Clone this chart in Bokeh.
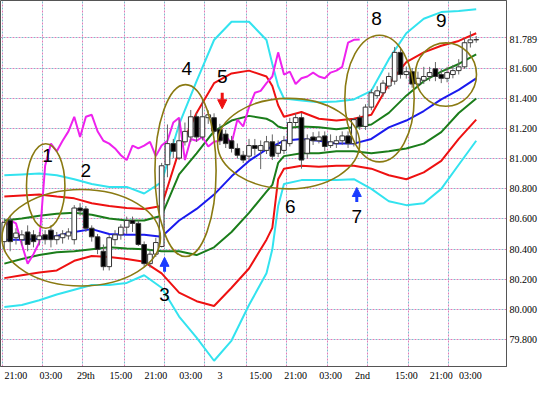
from bokeh.plotting import figure
from bokeh.models import (Range1d, FixedTicker, NumeralTickFormatter, Grid,
                          ColumnDataSource, Arrow, NormalHead)
from bokeh.core.properties import value
from bokeh.embed import file_html
from bokeh.resources import INLINE

# ---------------- data ----------------
# hourly candles (index 0 .. 81)
opens = [80.449, 80.589, 80.475, 80.462, 80.513, 80.494, 80.462, 80.494, 80.525, 80.462,
         80.475, 80.487, 80.462, 80.672, 80.666, 80.538, 80.481, 80.385, 80.283, 80.462,
         80.494, 80.545, 80.589, 80.570, 80.430, 80.303, 80.366, 80.417, 80.959, 81.099,
         81.003, 81.111, 81.143, 81.277, 81.143, 81.271, 81.271, 81.194, 81.162, 81.118,
         81.067, 81.022, 81.016, 81.086, 81.054, 81.054, 81.111, 81.035, 81.054, 81.099,
         81.239, 81.271, 81.035, 81.143, 81.118, 81.150, 81.086, 81.099, 81.118, 81.150,
         81.099, 81.271, 81.213, 81.341, 81.417, 81.436, 81.481, 81.513, 81.704, 81.557,
         81.576, 81.494, 81.519, 81.544, 81.595, 81.557, 81.532, 81.557, 81.583, 81.608,
         81.768, 81.787]
highs = [80.602, 80.621, 80.538, 80.525, 80.557, 80.525, 80.513, 80.525, 80.557, 80.513,
         80.525, 80.538, 80.691, 80.704, 80.685, 80.557, 80.500, 80.430, 80.494, 80.525,
         80.564, 80.615, 80.615, 80.590, 80.450, 80.400, 80.475, 80.971, 81.226, 81.130,
         81.258, 81.239, 81.322, 81.300, 81.400, 81.320, 81.300, 81.230, 81.190, 81.150,
         81.100, 81.050, 81.130, 81.130, 81.120, 81.150, 81.160, 81.120, 81.150, 81.270,
         81.300, 81.302, 81.160, 81.175, 81.180, 81.180, 81.160, 81.150, 81.180, 81.180,
         81.270, 81.290, 81.360, 81.460, 81.480, 81.520, 81.570, 81.740, 81.740, 81.610,
         81.600, 81.576, 81.608, 81.608, 81.640, 81.595, 81.608, 81.621, 81.659, 81.799,
         81.844, 81.812]
lows = [80.385, 80.385, 80.430, 80.424, 80.385, 80.411, 80.424, 80.430, 80.411, 80.430,
        80.436, 80.462, 80.430, 80.621, 80.513, 80.449, 80.366, 80.258, 80.258, 80.424,
        80.462, 80.500, 80.513, 80.420, 80.283, 80.277, 80.347, 80.411, 80.876, 81.003,
        80.990, 81.086, 81.110, 81.110, 81.120, 81.230, 81.160, 81.090, 81.070, 81.040,
        81.000, 80.970, 80.990, 81.020, 80.930, 81.030, 80.990, 81.010, 81.030, 81.080,
        81.210, 80.933, 81.000, 81.090, 81.100, 81.050, 81.070, 81.070, 81.090, 81.070,
        81.080, 81.190, 81.190, 81.320, 81.400, 81.410, 81.460, 81.490, 81.530, 81.530,
        81.470, 81.468, 81.494, 81.513, 81.513, 81.500, 81.506, 81.532, 81.557, 81.595,
        81.736, 81.768]
closes = [80.577, 80.449, 80.506, 80.494, 80.430, 80.449, 80.487, 80.462, 80.462, 80.487,
          80.500, 80.513, 80.672, 80.653, 80.538, 80.481, 80.398, 80.283, 80.475, 80.494,
          80.545, 80.589, 80.570, 80.430, 80.303, 80.366, 80.443, 80.952, 81.099, 81.048,
          81.118, 81.180, 81.277, 81.143, 81.277, 81.290, 81.181, 81.118, 81.099, 81.067,
          81.022, 80.990, 81.086, 81.067, 81.086, 81.111, 81.016, 81.086, 81.118, 81.239,
          81.271, 80.990, 81.130, 81.118, 81.143, 81.080, 81.111, 81.118, 81.150, 81.099,
          81.258, 81.213, 81.341, 81.436, 81.449, 81.500, 81.544, 81.704, 81.557, 81.576,
          81.494, 81.532, 81.544, 81.570, 81.544, 81.532, 81.570, 81.583, 81.608, 81.768,
          81.787, 81.789]
chikou_shift = 20

# band lines
band_x = [0, 3, 6, 9, 12, 15, 18, 21, 24, 27, 30, 33, 36, 39, 42, 45, 46, 47,
          48, 51, 54, 57, 60, 63, 66, 69, 72, 75, 78, 81]
mid = [80.462, 80.462, 80.468, 80.487, 80.513, 80.532, 80.500, 80.494, 80.494, 80.481,
       80.589, 80.666, 80.761, 80.882, 80.984, 81.061, 81.080, 81.099, 81.118, 81.130,
       81.118, 81.099, 81.099, 81.130, 81.207, 81.252, 81.315, 81.392, 81.455, 81.532]
up1 = [80.589, 80.602, 80.621, 80.634, 80.640, 80.627, 80.602, 80.589, 80.589, 80.621,
       80.895, 81.035, 81.181, 81.252, 81.283, 81.264, 81.245, 81.213, 81.201, 81.213,
       81.207, 81.194, 81.207, 81.226, 81.303, 81.417, 81.513, 81.576, 81.627, 81.691]
dn1 = [80.303, 80.334, 80.360, 80.379, 80.385, 80.398, 80.411, 80.404, 80.398, 80.385,
       80.385, 80.360, 80.411, 80.513, 80.640, 80.780, 80.825, 80.971, 81.016, 81.035,
       81.035, 81.048, 81.048, 81.035, 81.048, 81.067, 81.099, 81.175, 81.302, 81.398]
up2 = [80.748, 80.755, 80.761, 80.748, 80.736, 80.704, 80.685, 80.672, 80.666, 80.685,
       81.054, 81.302, 81.500, 81.564, 81.583, 81.544, 81.481, 81.353, 81.277, 81.309,
       81.264, 81.252, 81.264, 81.290, 81.494, 81.640, 81.704, 81.748, 81.780, 81.831]
dn2 = [80.207, 80.226, 80.245, 80.258, 80.322, 80.354, 80.347, 80.334, 80.315, 80.239,
       80.111, 80.054, 80.022, 80.143, 80.271, 80.462, 80.540, 80.863, 80.933, 80.952,
       80.946, 80.952, 80.952, 80.933, 80.889, 80.863, 80.908, 80.984, 81.130, 81.258]
up3 = [80.889, 80.895, 80.901, 80.889, 80.863, 80.831, 80.812, 80.812, 80.768, 80.844,
       81.226, 81.513, 81.786, 81.907, 81.907, 81.786, 81.627, 81.481, 81.398, 81.385,
       81.373, 81.379, 81.392, 81.449, 81.659, 81.831, 81.927, 81.971, 81.978, 81.990]
dn3 = [80.016, 80.029, 80.060, 80.098, 80.130, 80.162, 80.162, 80.175, 80.226, 80.143,
       79.952, 79.812, 79.659, 79.793, 80.029, 80.239, 80.398, 80.685, 80.831, 80.857,
       80.857, 80.857, 80.863, 80.799, 80.717, 80.691, 80.704, 80.799, 80.959, 81.118]

# axis ticks
x_tick_pos = [2, 8, 14, 20, 26, 32, 37, 44, 50, 56, 61.5, 69, 75, 80]
x_tick_labels = ["21:00", "03:00", "29th", "15:00", "21:00", "03:00", "3", "15:00",
                 "21:00", "03:00", "2nd", "15:00", "21:00", "03:00"]
v_grid_pos = [-0.3, 6.6, 13.5, 20.6, 27.5, 34.4, 41.5, 48.4, 55.4, 62.4, 69.4, 76.3]
y_ticks = [79.8, 80.0, 80.2, 80.4, 80.6, 80.8, 81.0, 81.2, 81.4, 81.6, 81.789]
h_grid_pos = [79.8, 80.0, 80.2, 80.4, 80.6, 80.8, 81.0, 81.2, 81.4, 81.6, 81.8]

# annotations: circled zones, numbers, arrows
zone_x = [7.1, 13.2, 31.1, 48.8, 64.4, 75.8]
zone_y = [80.818, 80.475, 80.920, 81.099, 81.398, 81.557]
zone_w = [6.6, 27.2, 10.5, 24.4, 11.9, 10.5]
zone_h = [0.56, 0.64, 1.14, 0.60, 0.84, 0.42]
num_x = [7.4, 14.0, 27.5, 31.3, 37.4, 49.1, 60.5, 63.9, 75.0]
num_y = [81.022, 80.920, 80.099, 81.596, 81.544, 80.680, 80.615, 81.927, 81.914]
num_text = ["1", "2", "3", "4", "5", "6", "7", "8", "9"]
arrows = [  # x, y_start, y_end, color
    (37.4, 81.436, 81.330, "#ee1111"),
    (27.5, 80.250, 80.345, "#1a3cff"),
    (60.5, 80.712, 80.808, "#1a3cff"),
]

# ---------------- figure ----------------
p = figure(width=540, height=383, x_range=Range1d(-0.66, 86.2),
           y_range=Range1d(79.621, 82.048), output_backend="svg",
           toolbar_location=None, y_axis_location="right",
           min_border_left=0, min_border_top=0, min_border_right=0, min_border_bottom=0)
p.background_fill_color = "white"
p.border_fill_color = "white"
p.outline_line_color = "#555555"
p.outline_line_width = 1

# grids (two-tone dotted)
p.xgrid.ticker = FixedTicker(ticks=v_grid_pos)
p.ygrid.ticker = FixedTicker(ticks=h_grid_pos)
for g in (p.xgrid, p.ygrid):
    g.grid_line_color = "#e07ab8"
    g.grid_line_dash = "2 4"
    g.grid_line_width = 1
p.add_layout(Grid(dimension=0, ticker=FixedTicker(ticks=v_grid_pos), grid_line_color="#7fb8c8",
                  grid_line_dash="2 4", grid_line_dash_offset=3))
p.add_layout(Grid(dimension=1, ticker=FixedTicker(ticks=h_grid_pos), grid_line_color="#7fb8c8",
                  grid_line_dash="2 4", grid_line_dash_offset=3))

# axes
p.xaxis.ticker = FixedTicker(ticks=x_tick_pos)
p.xaxis.major_label_overrides = {t: l for t, l in zip(x_tick_pos, x_tick_labels)}
p.yaxis.ticker = FixedTicker(ticks=y_ticks)
p.yaxis.formatter = NumeralTickFormatter(format="0.000")
for ax in (p.xaxis, p.yaxis):
    ax.major_tick_out = 0
    ax.major_tick_in = 0
    ax.minor_tick_out = 0
    ax.minor_tick_in = 0
    ax.axis_line_color = "#555555"
    ax.major_label_text_font_size = "10px"
    ax.major_label_text_color = "black"
    ax.major_label_text_font = "Liberation Sans Narrow"
    ax.major_label_standoff = 3

# band lines
band_styles = [(up3, "#33e3ef"), (dn3, "#33e3ef"), (up2, "#ee1111"), (dn2, "#ee1111"),
               (up1, "#1b7d1b"), (dn1, "#1b7d1b"), (mid, "#1a1aee")]
for ys, c in band_styles:
    p.line(band_x, ys, line_color=c, line_width=2)

# lagging line (closes shifted back)
p.line(list(range(len(closes) - chikou_shift)), closes[chikou_shift:],
       line_color="#ee22ee", line_width=2)

# candles
idx = list(range(len(closes)))
src = ColumnDataSource(dict(
    x=idx, high=highs, low=lows,
    top=[max(o, c) for o, c in zip(opens, closes)],
    bottom=[min(o, c) for o, c in zip(opens, closes)],
    fill=["white" if c >= o else "black" for o, c in zip(opens, closes)],
))
p.segment(x0="x", y0="high", x1="x", y1="low", source=src, line_color="#666666", line_width=1)
p.vbar(x="x", width=0.8, top="top", bottom="bottom", source=src,
       fill_color="fill", line_color="#333333", line_width=1)

# zones
p.ellipse(x=zone_x, y=zone_y, width=zone_w, height=zone_h, fill_color=None,
          line_color="#8a7a12", line_width=1.6)

# numbers
p.text(x=num_x, y=num_y, text=num_text, text_align="center", text_baseline="middle",
       text_font_size="19px", text_color="black", text_font=value("Liberation Sans"))

# arrows
for ax_, y0, y1, c in arrows:
    p.add_layout(Arrow(x_start=ax_, y_start=y0, x_end=ax_, y_end=y1, line_color=c,
                       line_width=3, end=NormalHead(size=9, fill_color=c, line_color=c)))

open("out.html", "w").write(file_html(p, INLINE))
